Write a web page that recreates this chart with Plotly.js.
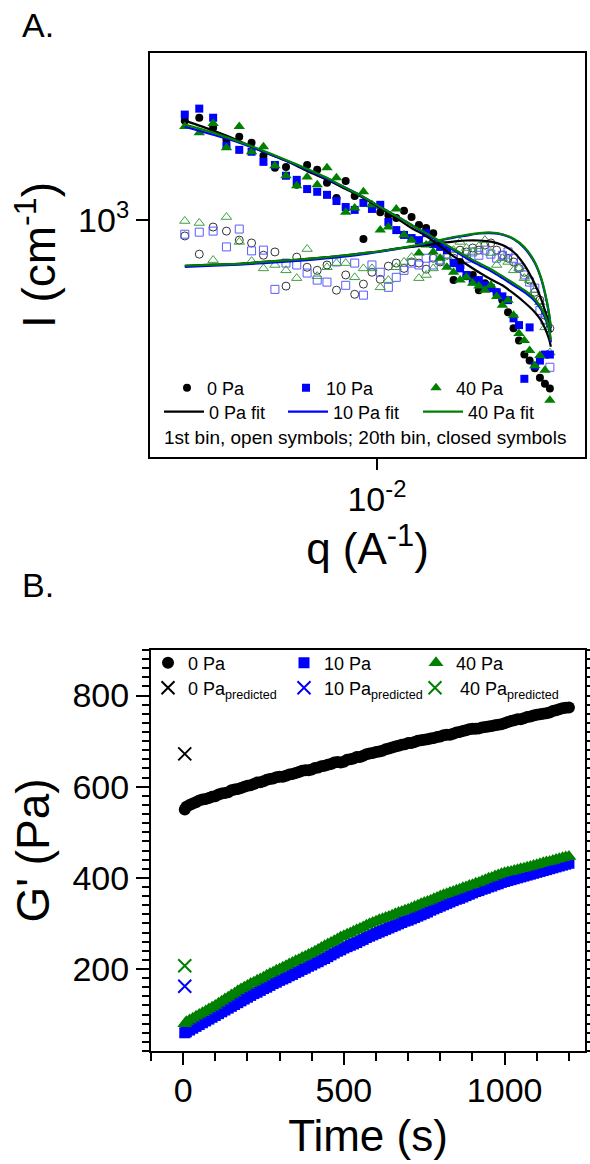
<!DOCTYPE html>
<html><head><meta charset="utf-8">
<script src="https://cdn.plot.ly/plotly-3.0.1.min.js"></script>
<style>html,body{margin:0;padding:0;background:#fff;overflow:hidden}#chart{width:590px;height:1164px}</style>
</head><body><div id="chart"></div>
<script>
// ---------- Panel A: SANS intensity vs q ----------
const q = [0.00560,0.00585,0.00610,0.00635,0.00660,0.00685,0.00710,0.00735,0.00760,0.00785,
           0.00810,0.00835,0.00860,0.00885,0.00910,0.00935,0.00960,0.00985,0.01010,0.01035,
           0.01060,0.01085,0.01110,0.01135,0.01160,0.01185,0.01210,0.01235,0.01260,0.01285,
           0.01310,0.01335,0.01360,0.01385,0.01410,0.01435,0.01460,0.01485,0.01510,0.01535,
           0.01560,0.01585,0.01610,0.01635,0.01660,0.01685];
// 20th bin (closed symbols)
const I20_0Pa  = [1350,1362,1321,1274,1286,1263,1214,1171,1174,1112,1181,1164,1119,1069,1125,1075,944,1043,1024,1015,
                  1006,1028,1009,985,976,961,930,913,834,881,844,847,809,826,816,804,785,757,721,695,666,654,639,621,610,601];
const I20_10Pa = [1375,1400,1362,1251,1236,1229,1192,1181,1143,1129,1098,1089,1079,1059,1040,1031,1053,1034,1047,994,
                  970,956,947,941,961,930,922,913,878,864,847,831,834,821,814,804,794,785,743,728,619,723,644,654,666,666];
const I20_40Pa = [1326,1302,1338,1244,1326,1229,1248,1178,1143,1109,1139,1112,1171,1136,1024,1037,1089,1047,970,979,
                  1034,956,941,905,927,908,891,867,854,834,841,826,819,809,821,794,773,785,750,710,695,674,644,664,635,580];
// 1st bin (open symbols)
const I1_0Pa  = [953,902,979,967,941,933,899,908,819,894,867,859,873,809,847,799,824,854,836,870,
                 878,864,881,878,862,891,881,899,891,913,908,919,913,927,933,913,899,891,881,864,854,834,804,785,750,721];
const I1_10Pa = [958,964,967,922,973,911,913,811,878,873,852,834,829,881,821,878,797,873,854,816,
                 841,859,878,873,891,873,886,881,899,873,891,908,899,913,902,891,899,908,891,867,847,829,814,761,739,641];
const I1_40Pa = [997,991,886,1009,936,883,864,873,859,839,916,844,867,878,878,841,864,864,816,834,
                 867,881,894,839,847,864,881,896,913,936,919,908,924,941,905,873,891,881,859,864,839,834,809,780,723,670];
// fits
const qFit = [0.00560,0.00610,0.00660,0.00710,0.00760,0.00810,0.00860,0.00910,0.00960,0.01010,0.01060,0.01110,0.01160,
              0.01210,0.01260,0.01310,0.01360,0.01410,0.01460,0.01510,0.01560,0.01610,0.01640,0.01660,0.01680,0.01690];
const fit20_0Pa  = [1350,1310,1270,1229,1196,1160,1129,1098,1069,1037,1006,976,953,924,896,875,854,836,821,801,780,757,739,721,699,682];
const fit20_10Pa = [1326,1294,1263,1229,1196,1164,1132,1102,1072,1040,1012,985,958,936,913,891,873,857,839,821,804,783,764,745,719,691];
const fit20_40Pa = [1334,1302,1267,1233,1199,1167,1136,1102,1072,1040,1012,985,961,938,916,896,878,862,844,826,809,788,768,750,723,695];
const fit1_0Pa   = [871,874,876,881,885,889,894,899,905,910,917,922,927,933,937,940,940,937,927,908,873,824,789,761,732,712];
const fit1_10Pa  = [868,871,874,878,882,886,891,896,902,909,916,923,931,940,948,954,960,961,957,944,919,878,839,801,754,721];
const fit1_40Pa  = [871,874,876,881,885,889,894,899,905,910,917,924,933,941,950,956,961,963,958,945,922,881,841,804,757,723];

// ---------- Panel B: G' vs time ----------
const time = [5,10,20,30,40,50,60,70,80,90,
              100,110,120,130,140,150,160,170,180,190,
              200,210,220,230,240,250,260,270,280,290,
              300,310,320,330,340,350,360,370,380,390,
              400,410,420,430,440,450,460,470,480,490,
              500,510,520,530,540,550,560,570,580,590,
              600,610,620,630,640,650,660,670,680,690,
              700,710,720,730,740,750,760,770,780,790,
              800,810,820,830,840,850,860,870,880,890,
              900,910,920,930,940,950,960,970,980,990,
              1000,1010,1020,1030,1040,1050,1060,1070,1080,1090,
              1100,1110,1120,1130,1140,1150,1160,1170,1180,1190,
              1200];
const G_0Pa  = [550,556,560,563,566,570,572,573,575,578,
                579,583,585,586,588,592,594,595,597,600,
                602,603,606,609,610,612,615,617,618,621,
                622,622,624,627,628,630,632,635,636,636,
                638,641,642,645,646,648,650,653,654,653,
                655,659,660,662,665,665,668,671,673,674,
                676,677,679,682,684,686,688,690,692,693,
                696,696,698,701,702,703,704,706,707,709,
                710,713,714,714,716,719,720,722,724,726,
                727,727,728,730,731,732,733,735,736,737,
                739,742,744,746,748,748,750,753,754,756,
                758,759,760,761,763,766,768,770,772,773,
                774];
const G_10Pa = [60,62,66,70,74,78,82,86,90,94,
                98,102,106,110,114,118,122,126,130,134,
                138,142,146,149,153,157,160,164,168,171,
                175,178,181,185,188,192,195,199,202,206,
                209,213,216,220,223,227,231,235,239,242,
                246,249,252,255,258,262,265,269,272,275,
                278,281,284,287,290,293,296,299,302,305,
                307,310,313,316,319,322,325,329,332,335,
                338,341,344,347,350,353,355,358,361,364,
                367,370,372,375,377,380,382,385,387,390,
                392,394,396,398,400,402,404,406,408,410,
                412,414,416,418,420,422,424,426,428,430,
                432];
const G_40Pa = [80,84,88,92,96,100,104,108,112,116,
                120,125,129,134,138,143,147,152,156,160,
                164,168,171,175,178,182,186,190,193,197,
                200,204,207,211,214,218,221,225,228,232,
                235,239,243,247,251,255,258,262,266,270,
                273,276,279,283,286,289,292,296,299,302,
                305,308,310,313,315,318,321,324,326,329,
                331,334,337,340,343,346,348,351,354,357,
                360,363,365,368,370,373,375,378,380,383,
                385,388,390,393,396,399,401,404,406,409,
                411,413,414,416,418,420,421,423,425,427,
                429,431,433,435,436,438,440,442,444,446,
                447];
const tPred = [5];
const Gpred_0Pa = [672];
const Gpred_10Pa = [162];
const Gpred_40Pa = [207];

const FONT = "'Liberation Sans', Arial, Helvetica, sans-serif";
const BLACK = '#000000', BLUE = '#0000ff', GREEN = '#008000';
const W = 590, H = 1164;
const px = (a, b) => [a / W, b / W];
const py = (top, bottom) => [1 - bottom / H, 1 - top / H];

const data = [];
function openSym(y, sym, color, size) {
  data.push({type:'scatter', mode:'markers', x:q, y:y, xaxis:'x', yaxis:'y', showlegend:false,
    marker:{symbol:sym, size:size, color:color, line:{color:color, width:1}}});
}
openSym(I1_0Pa, 'circle-open', '#333333', 8);
openSym(I1_10Pa, 'square-open', '#5b5bff', 8);
openSym(I1_40Pa, 'triangle-up-open', '#3f9f3f', 9);
function closedSym(y, sym, color, name, size, lw) {
  data.push({type:'scatter', mode:'markers', x:q, y:y, xaxis:'x', yaxis:'y', name:name, legend:'legend', legendwidth:lw,
    marker:{symbol:sym, size:size, color:color}});
}
closedSym(I20_0Pa, 'circle', BLACK, '0 Pa', 8, 74);
closedSym(I20_10Pa, 'square', BLUE, '10 Pa', 8, 85);
closedSym(I20_40Pa, 'triangle-up', GREEN, '40 Pa', 10, 80);
function fitLine(y, color, name, show, lw) {
  data.push({type:'scatter', mode:'lines', x:qFit, y:y, xaxis:'x', yaxis:'y', name:name, legend:'legend2',
    showlegend:show, legendwidth:lw, line:{color:color, width:2.2, shape:'spline', smoothing:0.8}});
}
fitLine(fit1_0Pa, BLACK, '0 Pa fit', false, 69);
fitLine(fit1_10Pa, BLUE, '10 Pa fit', false, 80);
fitLine(fit1_40Pa, GREEN, '40 Pa fit', false, 80);
fitLine(fit20_0Pa, BLACK, '0 Pa fit', true, 69);
fitLine(fit20_10Pa, BLUE, '10 Pa fit', true, 80);
fitLine(fit20_40Pa, GREEN, '40 Pa fit', true, 80);

// panel B
function gSeries(y, sym, color, name, size, lw) {
  data.push({type:'scatter', mode:'markers', x:time, y:y, xaxis:'x2', yaxis:'y2', name:name, legend:'legend3', legendwidth:lw,
    marker:{symbol:sym, size:size, color:color}});
}
gSeries(G_0Pa, 'circle', BLACK, '0 Pa', 12, 91);
gSeries(G_10Pa, 'square', BLUE, '10 Pa', 11, 87);
gSeries(G_40Pa, 'triangle-up', GREEN, '40 Pa', 13, 90);
function pred(y, color, name, lw) {
  data.push({type:'scatter', mode:'markers', x:tPred, y:y, xaxis:'x2', yaxis:'y2', name:name, legend:'legend4', legendwidth:lw,
    marker:{symbol:'x-thin-open', size:13, color:color, line:{color:color, width:2}}});
}
pred(Gpred_0Pa, BLACK, '0 Pa<sub>predicted</sub>', 91);
pred(Gpred_10Pa, BLUE, '10 Pa<sub>predicted</sub>', 86);
pred(Gpred_40Pa, GREEN, ' 40 Pa<sub>predicted</sub>', 110);

const axBase = {showline:true, linecolor:'#000', linewidth:2, ticks:'outside', tickcolor:'#000', tickwidth:2,
  showgrid:false, zeroline:false, tickfont:{family:FONT, size:34, color:'#000'}};
const legBase = {xanchor:'left', yanchor:'middle', orientation:'h', bgcolor:'rgba(0,0,0,0)', borderwidth:0,
  font:{family:FONT, size:18, color:'#000'}, traceorder:'normal'};

const layout = {
  width: W, height: H, margin:{l:0, r:0, t:0, b:0}, paper_bgcolor:'#fff', plot_bgcolor:'#fff',
  font:{family:FONT, color:'#000'},
  xaxis: Object.assign({}, axBase, {type:'log', domain:px(150,585), anchor:'y', range:[-2.2974,-1.7274],
    tickmode:'array', tickvals:[0.01], ticktext:['10<sup>-2</sup>'], ticklen:11, mirror:true,
    title:{text:'q (A<sup>-1</sup>)', font:{family:FONT, size:44}, standoff:8}}),
  yaxis: Object.assign({}, axBase, {type:'log', domain:py(53,457), anchor:'x', range:[2.6891,3.2191],
    tickmode:'array', tickvals:[1000], ticktext:['10<sup>3</sup>'], ticklen:12, mirror:'ticks',
    title:{text:'I (cm<sup>-1</sup>)', font:{family:FONT, size:46}, standoff:8}}),
  xaxis2: Object.assign({}, axBase, {domain:px(151,585), anchor:'y2', range:[-100,1250], tick0:0, dtick:500,
    ticklen:12, mirror:true, ticklabelstandoff:-4,
    minor:{dtick:100, tick0:0, ticks:'outside', ticklen:8, tickwidth:2, tickcolor:'#000'},
    title:{text:'Time (s)', font:{family:FONT, size:44}, standoff:12}}),
  yaxis2: Object.assign({}, axBase, {domain:py(650,1051), anchor:'x2', range:[20,900], tick0:0, dtick:200,
    ticklen:13, mirror:'allticks', minor:{dtick:20, tick0:0, ticks:'outside', ticklen:7, tickwidth:2, tickcolor:'#000'},
    title:{text:"G' (Pa)", font:{family:FONT, size:46}, standoff:8}}),
  legend:  Object.assign({}, legBase, {x:167/W, y:1-388/H}),
  legend2: Object.assign({}, legBase, {x:159/W, y:1-412/H, itemwidth:40}),
  legend3: Object.assign({}, legBase, {x:148/W, y:1-663/H}),
  legend4: Object.assign({}, legBase, {x:148/W, y:1-688/H}),
  annotations: [
    {text:'A.', xref:'paper', yref:'paper', x:20/W, y:1-25/H, xanchor:'left', yanchor:'middle', showarrow:false,
     font:{family:FONT, size:34, color:'#000'}},
    {text:'B.', xref:'paper', yref:'paper', x:20/W, y:1-585/H, xanchor:'left', yanchor:'middle', showarrow:false,
     font:{family:FONT, size:34, color:'#000'}},
    {text:'1st bin, open symbols; 20th bin, closed symbols', xref:'paper', yref:'paper', x:365/W, y:1-437/H,
     xanchor:'center', yanchor:'middle', showarrow:false, font:{family:FONT, size:19, color:'#000'}}
  ]
};
Plotly.newPlot('chart', data, layout, {displayModeBar:false, staticPlot:true});
</script>
</body></html>
